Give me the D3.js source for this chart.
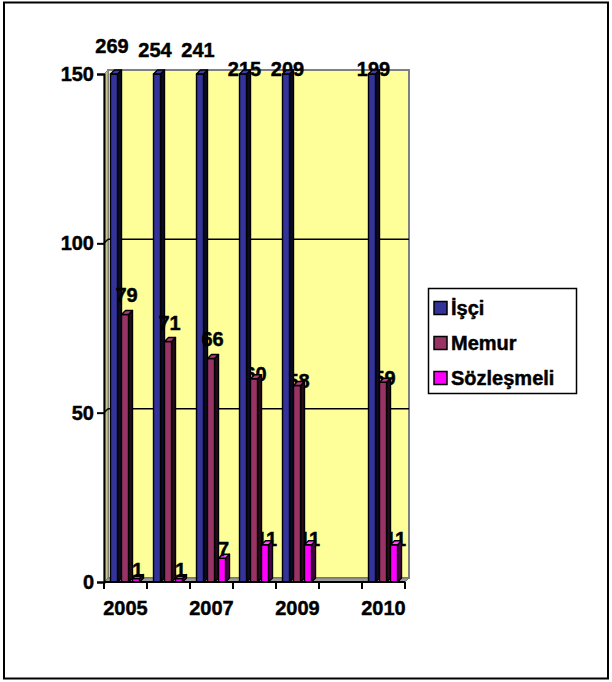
<!DOCTYPE html>
<html>
<head>
<meta charset="utf-8">
<script src="https://cdn.jsdelivr.net/npm/d3@7"></script>
<style>
  html, body { margin: 0; padding: 0; background: #fff; }
  svg { display: block; }
  text { font-family: "Liberation Sans", Arial, sans-serif; font-weight: bold; fill: #000; stroke: #000; stroke-width: 0.45px; }
</style>
</head>
<body>
<svg id="chart" width="612" height="682"></svg>
<script>
// ---- data ----
const categories = ["2005", "2006", "2007", "2008", "2009", "", "2010"];
const series = ["İşçi", "Memur", "Sözleşmeli"];
const isciValues = [269, 254, 241, 215, 209, null, 199];
const memurValues = [79, 71, 66, 60, 58, null, 59];
const sozlesmeliValues = [1, 1, 7, 11, 11, null, 11];
const yTicks = [0, 50, 100, 150];
const xLabelCategories = ["2005", "2007", "2009", "2010"];

const valuesBySeries = { "İşçi": isciValues, "Memur": memurValues, "Sözleşmeli": sozlesmeliValues };
const colors = { "İşçi": "#333399", "Memur": "#993366", "Sözleşmeli": "#FF00FF" };
const sideColors = { "İşçi": "#0b0b26", "Memur": "#260b18", "Sözleşmeli": "#4d004d" };
const topColors = { "İşçi": "#3d3db0", "Memur": "#b03d78", "Sözleşmeli": "#ff4dff" };

const svg = d3.select("#chart");

// outer border
svg.append("rect").attr("x", 4).attr("y", 2.5).attr("width", 604).attr("height", 676)
  .attr("fill", "#fff").attr("stroke", "#000").attr("stroke-width", 2);

const plotLeft = 104, plotRight = 405, plotBottom = 582, plotTop = 74;
const dx = 4, dy = -4; // 3D depth offset
const yMax = 150;

const x = d3.scaleBand().domain(categories.map((c, i) => i)).range([plotLeft, plotRight]).padding(0);
const inner = d3.scaleBand().domain(series).range([6.5, 39.5]).padding(0);
const y = d3.scaleLinear().domain([0, yMax]).range([plotBottom, plotTop]);

const wFront = inner.bandwidth() - dx;

// ---- walls ----
svg.append("rect")
  .attr("x", plotLeft + dx).attr("y", y(yMax) + dy)
  .attr("width", plotRight - plotLeft).attr("height", plotBottom - plotTop)
  .attr("fill", "#FFFF99").attr("stroke", "#808080").attr("stroke-width", 2);
svg.append("path")
  .attr("d", `M${plotLeft},${y(yMax)} L${plotLeft + dx},${y(yMax) + dy} L${plotLeft + dx},${plotBottom + dy} L${plotLeft},${plotBottom} Z`)
  .attr("fill", "#c8c88c").attr("stroke", "#808080").attr("stroke-width", 1);
svg.append("path")
  .attr("d", `M${plotLeft},${plotBottom} L${plotLeft + dx},${plotBottom + dy} L${plotRight + dx},${plotBottom + dy} L${plotRight},${plotBottom} Z`)
  .attr("fill", "#9a9a9a").attr("stroke", "#707070").attr("stroke-width", 1);

yTicks.filter(t => t > 0 && t < yMax).forEach(t => {
  svg.append("line")
    .attr("x1", plotLeft + dx).attr("x2", plotRight + dx)
    .attr("y1", y(t) + dy).attr("y2", y(t) + dy)
    .attr("stroke", "#000").attr("stroke-width", 1.5);
  svg.append("line")
    .attr("x1", plotLeft).attr("x2", plotLeft + dx)
    .attr("y1", y(t)).attr("y2", y(t) + dy)
    .attr("stroke", "#000").attr("stroke-width", 1.5);
});

// ---- labels and bars ----
const labelLayer = svg.append("g");
const barLayer = svg.append("g");
const frontLabelLayer = svg.append("g");

function labelBaseline(s, v, i) {
  const t = y(Math.min(v, yMax));
  if (s === "İşçi" && v > yMax) return i < 3 ? t - (v > 260 ? 21 : 17) : t + 2;
  if (s === "Sözleşmeli") return i < 3 ? t - 2 : t + 1;
  return i < 3 ? t - 12 : t + 2.5;
}

categories.forEach((c, i) => {
  series.forEach(s => {
    const v = valuesBySeries[s][i];
    if (v == null) return;
    const x0 = x(i) + inner(s);
    const x1 = x0 + wFront;
    const yt = y(Math.min(v, yMax));
    const g = barLayer.append("g").attr("stroke", "#000").attr("stroke-width", 1.4).attr("stroke-linejoin", "round");
    g.append("path")
      .attr("d", `M${x1},${yt} L${x1 + dx},${yt + dy} L${x1 + dx},${plotBottom + dy} L${x1},${plotBottom} Z`)
      .attr("fill", sideColors[s]);
    g.append("rect").attr("x", x0).attr("y", yt).attr("width", wFront).attr("height", plotBottom - yt)
      .attr("fill", colors[s]);
    g.append("path")
      .attr("d", `M${x0},${yt} L${x0 + dx},${yt + dy} L${x1 + dx},${yt + dy} L${x1},${yt} Z`)
      .attr("fill", topColors[s]);

    const layer = i < 3 ? frontLabelLayer : labelLayer;
    const cx = x0 + (wFront + dx) / 2 + (s === "İşçi" && i < 3 ? -4 : -0.5);
    layer.append("text")
      .attr("x", cx).attr("y", labelBaseline(s, v, i))
      .attr("text-anchor", "middle").attr("font-size", 20)
      .text(v);
  });
});

// ---- axes ----
const yAxis = d3.axisLeft(y).tickValues(yTicks).tickSize(7).tickPadding(3);
const gy = svg.append("g").attr("transform", `translate(${plotLeft},0)`).call(yAxis);
gy.select(".domain").attr("stroke", "#000").attr("stroke-width", 2);
gy.selectAll(".tick line").attr("stroke", "#000").attr("stroke-width", 2);
gy.selectAll(".tick text").attr("font-size", 20).attr("font-family", "Liberation Sans, Arial, sans-serif")
  .attr("font-weight", "bold").attr("fill", "#000");

svg.append("line").attr("x1", plotLeft).attr("x2", plotRight).attr("y1", plotBottom).attr("y2", plotBottom)
  .attr("stroke", "#000").attr("stroke-width", 2);
const boundaries = categories.map((c, i) => x(i)).concat([x(categories.length - 1) + x.bandwidth()]);
svg.selectAll(".xtick").data(boundaries).enter().append("line")
  .attr("x1", d => d).attr("x2", d => d).attr("y1", plotBottom).attr("y2", plotBottom + 7)
  .attr("stroke", "#000").attr("stroke-width", 2);

const xAxis = d3.axisBottom(x).tickSize(0).tickPadding(0)
  .tickValues(categories.map((c, i) => i).filter(i => xLabelCategories.includes(categories[i])))
  .tickFormat(i => categories[i]);
const gx = svg.append("g").attr("transform", `translate(0,${plotBottom})`).call(xAxis);
gx.select(".domain").remove();
gx.selectAll(".tick text").attr("font-size", 20).attr("font-family", "Liberation Sans, Arial, sans-serif")
  .attr("font-weight", "bold").attr("fill", "#000").attr("dy", null).attr("y", 33);

// ---- legend ----
const legend = svg.append("g");
legend.append("rect").attr("x", 428.5).attr("y", 288.5).attr("width", 148).attr("height", 105)
  .attr("fill", "#fff").attr("stroke", "#000").attr("stroke-width", 1.5);
series.forEach((s, k) => {
  const cy = 308 + k * 35;
  legend.append("rect").attr("x", 434).attr("y", cy - 6.5).attr("width", 13).attr("height", 13)
    .attr("fill", colors[s]).attr("stroke", "#000").attr("stroke-width", 1.5);
  legend.append("text").attr("x", 451).attr("y", cy + 7).attr("font-size", 20).text(s);
});
</script>
</body>
</html>
